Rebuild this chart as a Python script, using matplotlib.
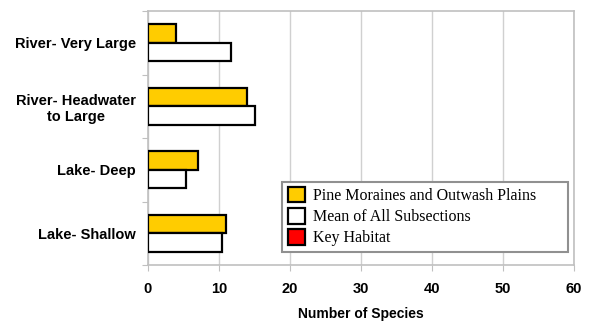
import matplotlib.pyplot as plt
from matplotlib.patches import Patch
import numpy as np

categories = ["River- Very Large", "River- Headwater\nto Large", "Lake- Deep", "Lake- Shallow"]
pine_moraines = [4, 14, 7, 11]
mean_all = [11.7, 15, 5.4, 10.4]
series_names = ["Pine Moraines and Outwash Plains", "Mean of All Subsections", "Key Habitat"]
series_colors = ["#FFCC00", "white", "#FF0000"]

fig = plt.figure(figsize=(5.93, 3.22), dpi=100)
ax = fig.add_axes([148 / 593, 1 - 265 / 322, (574 - 148) / 593, (265 - 11) / 322])

y = np.arange(len(categories))
h = 0.29
ax.barh(y - h / 2, pine_moraines, height=h, color=series_colors[0], edgecolor="black", linewidth=1.6,
        zorder=3)
ax.barh(y + h / 2, mean_all, height=h, color=series_colors[1], edgecolor="black", linewidth=1.6,
        zorder=3)

ax.set_xlim(0, 60)
ax.set_ylim(len(categories) - 0.5, -0.5)
ax.set_xticks(np.arange(0, 61, 10))
ax.set_yticks(np.arange(len(categories) + 1) - 0.5, minor=False)
ax.set_yticklabels([])
ax.set_yticks(y, minor=True)
ax.set_yticklabels(categories, minor=True, fontweight="bold", fontsize=10.5,
                   family="Liberation Sans", ha="right", multialignment="center")
ax.tick_params(axis="y", which="minor", length=0, pad=8.5)
ax.tick_params(axis="y", which="major", length=4, color="#c0c0c0")
ax.tick_params(axis="x", length=4, color="#c0c0c0", pad=8)
for lab in ax.get_xticklabels():
    lab.set_fontweight("bold")
    lab.set_fontsize(10.5)
    lab.set_family("Liberation Sans")

ax.grid(axis="x", color="#d0d0d0", linewidth=1, zorder=0)
for s in ax.spines.values():
    s.set_color("#c0c0c0")
    s.set_linewidth(1.2)

ax.set_xlabel("Number of Species", fontweight="bold", fontsize=10, family="Liberation Sans", labelpad=8)

handles = [Patch(facecolor=c, edgecolor="black", linewidth=1.6) for c in series_colors]
leg = ax.legend(handles, series_names, loc="lower left",
                bbox_to_anchor=((282 - 148) / 426, (265 - 252) / 254, (568 - 282) / 426, (252 - 184) / 254),
                mode="expand", prop={"family": "Liberation Serif", "size": 11.5}, fancybox=False,
                edgecolor="#909090", framealpha=1, borderaxespad=0, handlelength=1.1,
                handleheight=1.1, handletextpad=0.5, labelspacing=0.25, borderpad=0.35)
leg.get_frame().set_linewidth(1.5)
leg.set_zorder(5)

fig.savefig("out.png", dpi=100)
